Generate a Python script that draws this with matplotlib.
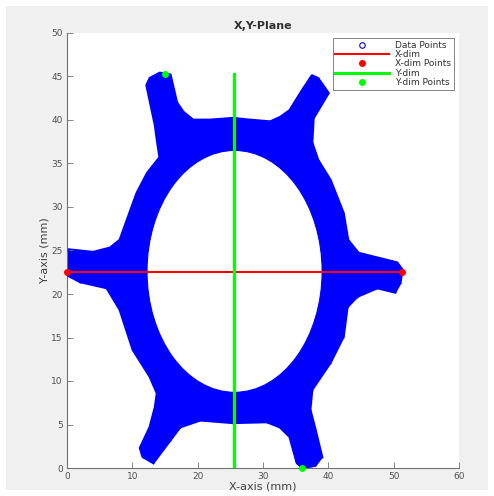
import matplotlib
matplotlib.use('Agg')
import matplotlib.pyplot as plt
import matplotlib.patches as patches

# outer outline of the scanned part (mm), clockwise
outer_x = [0.2, 4.0, 6.6, 8.1, 9.2, 10.7, 12.3, 14.2, 13.8, 13.5, 12.2, 12.7, 14.2, 15.8,
           16.8, 17.8, 19.3, 21.9, 25.4, 28.0, 31.1, 32.6, 34.1, 36.0, 37.5, 38.4, 40.0,
           37.7, 37.5, 38.4, 40.3, 42.3, 43.0, 44.6, 50.5, 51.3, 51.0, 50.2, 47.5, 44.4,
           42.9, 42.3, 40.3, 37.5, 37.2, 38.0, 39.0, 38.0, 36.1, 35.2, 34.1, 32.6, 30.6,
           25.4, 20.4, 17.3, 15.8, 13.2, 11.6, 11.2, 12.7, 13.5, 13.8, 12.7, 10.1, 8.1,
           6.1, 2.0, 0.0]
outer_y = [25.1, 24.8, 25.3, 26.2, 28.5, 31.6, 33.9, 35.7, 37.7, 39.4, 44.0, 44.8, 45.4, 45.2,
           42.0, 40.9, 40.0, 40.0, 40.2, 40.0, 39.8, 40.3, 41.1, 43.4, 45.1, 44.8, 43.1,
           40.2, 37.4, 35.4, 33.1, 29.3, 26.2, 24.7, 23.6, 22.8, 21.3, 20.2, 20.7, 19.7,
           18.5, 15.1, 12.1, 9.0, 6.7, 4.4, 1.3, 0.3, 0.0, 0.6, 3.6, 4.7, 5.3,
           5.2, 5.5, 4.7, 3.2, 0.6, 1.3, 2.3, 4.7, 7.0, 8.6, 10.5, 13.6, 18.2,
           20.7, 21.4, 22.2]

# inner hole (ellipse): centre and full width/height in mm
hole_center = (25.65, 22.6)
hole_w = 26.8
hole_h = 27.8

# dimension lines and their end points
xdim_x = [0.0, 51.3]
xdim_y = [22.5, 22.5]
ydim_x = [25.5, 25.5]
ydim_y = [0.0, 45.3]
ydim_pts_x = [15.0, 36.0]
ydim_pts_y = [45.3, 0.0]

fig = plt.figure(figsize=(4.94, 4.96), dpi=100, facecolor='white')
# grey figure panel like the MATLAB window
fig.patches.append(patches.Rectangle((6 / 494, 6 / 496), 482 / 494, 484 / 496,
                                     transform=fig.transFigure, facecolor='#f0f0f0',
                                     edgecolor='none', zorder=-10))

ax = fig.add_axes([67 / 494, 28 / 496, 392 / 494, 435 / 496])
ax.set_facecolor('white')

# the point cloud region: outline filled, hole cut out
part = patches.Polygon(list(zip(outer_x, outer_y)), closed=True, facecolor='#0000ff',
                       edgecolor='#0000ff', linewidth=2.0, joinstyle='round', zorder=1)
ax.add_patch(part)
hole = patches.Ellipse(hole_center, hole_w, hole_h, facecolor='white',
                       edgecolor='#0000ff', linewidth=0.8, zorder=2)
ax.add_patch(hole)

ax.plot(outer_x, outer_y, 'o', color='#0000ff', markerfacecolor='none', markersize=1,
        markeredgewidth=0.5, zorder=3, label='Data Points')
ax.plot(xdim_x, xdim_y, '-', color='#ff0000', linewidth=1.5, zorder=4, label='X-dim')
ax.plot(xdim_x, xdim_y, 'o', color='#ff0000', markersize=4, zorder=5, clip_on=False,
        label='X-dim Points')
ax.plot(ydim_x, ydim_y, '-', color='#00ff00', linewidth=2.2, zorder=6, label='Y-dim')
ax.plot(ydim_pts_x, ydim_pts_y, 'o', color='#00ff00', markersize=4, zorder=7,
        clip_on=False, label='Y-dim Points')

ax.set_xlim(0, 60)
ax.set_ylim(0, 50)
ax.set_xticks(range(0, 61, 10))
ax.set_yticks(range(0, 51, 5))

for s in ['top', 'right']:
    ax.spines[s].set_visible(False)
for s in ['left', 'bottom']:
    ax.spines[s].set_color('#707070')
    ax.spines[s].set_linewidth(0.8)
ax.tick_params(direction='in', length=4, width=0.6, colors='#707070', labelsize=6.5,
               labelcolor='#505050', pad=3)

ax.set_title('X,Y-Plane', fontsize=8, fontweight='bold', color='#303030', pad=3)
ax.set_xlabel('X-axis (mm)', fontsize=8, color='#404040', labelpad=0)
ax.set_ylabel('Y-axis (mm)', fontsize=8, color='#404040', labelpad=1)

leg = ax.legend(loc='upper right', fontsize=6.5, handlelength=6.0, labelspacing=0.02,
                borderpad=0.3, borderaxespad=0.6, fancybox=False, framealpha=1,
                edgecolor='#707070', handletextpad=0.6)
leg.get_frame().set_linewidth(0.6)
leg.legend_handles[0].set_markersize(4)
leg.legend_handles[0].set_markeredgewidth(0.8)
for t in leg.get_texts():
    t.set_color('#303030')

fig.savefig('out.png', dpi=100, facecolor=fig.get_facecolor())
